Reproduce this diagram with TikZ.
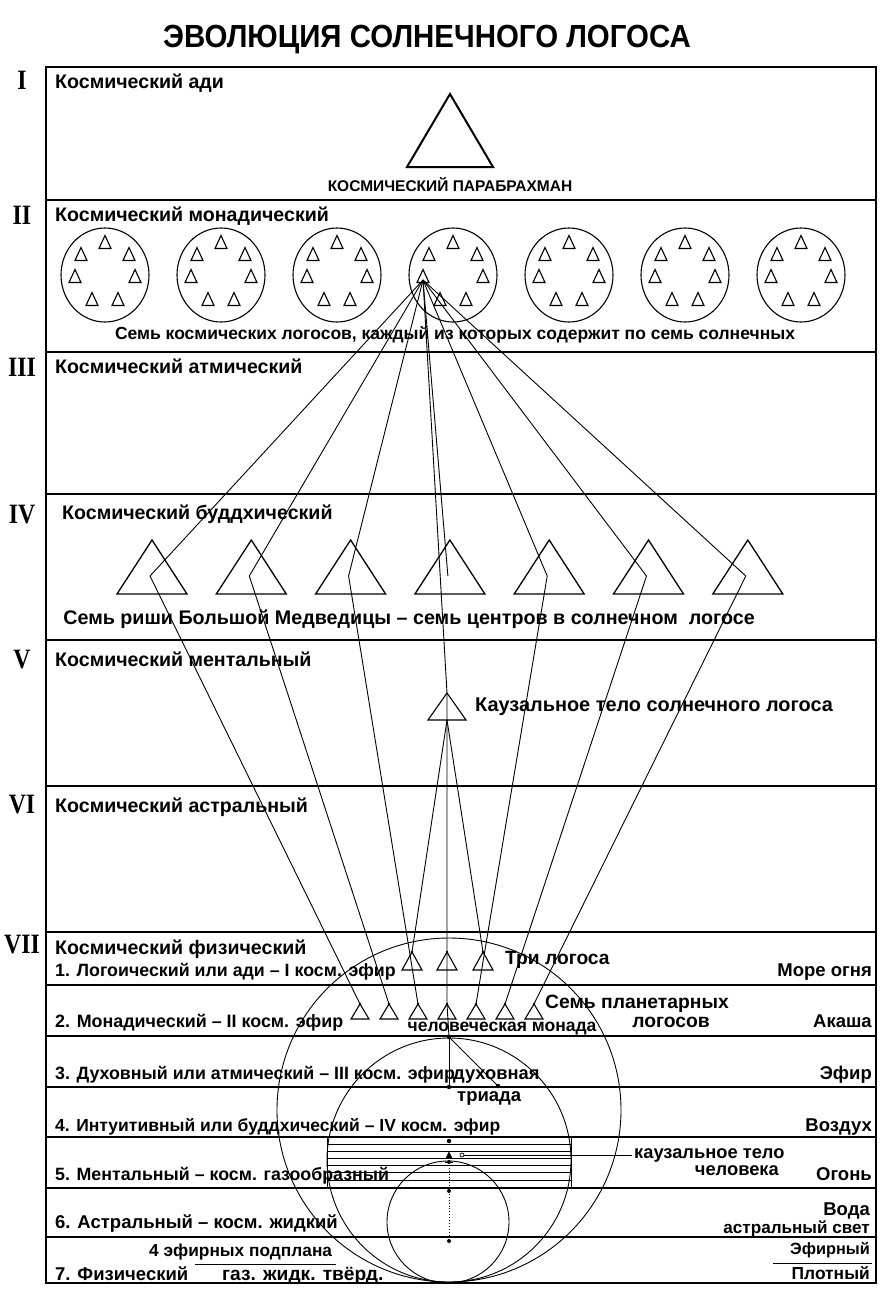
\documentclass[tikz,border=0pt]{standalone}
\usepackage{fontspec}
\setmainfont{Liberation Sans}
\newfontfamily\romfam{Liberation Serif}[FakeStretch=0.85]
\newfontfamily\titlefam{Liberation Sans}[FakeStretch=0.92]
\usetikzlibrary{calc}
\newcommand{\trisym}[5][]{\draw[tri,#1] (#2,#3-#5/2) -- (#2+#4,#3+#5/2) -- (#2-#4,#3+#5/2) -- cycle;}
\begin{document}
\begin{tikzpicture}[x=1pt,y=-1pt,
  lbl/.style={inner sep=0pt, font=\fontsize{19.6}{21}\selectfont\bfseries},
  fs/.style={inner sep=0pt, font=\fontsize{#1}{#1}\selectfont\bfseries},
  rom/.style={inner sep=0pt, font=\fontsize{28}{30}\selectfont\romfam\bfseries},
  frame/.style={line width=2.2pt},
  divider/.style={line width=1.3pt},
  subdiv/.style={line width=1.1pt},
  ray/.style={line width=0.9pt},
  tri/.style={line width=1.1pt, line join=miter},
]
\useasboundingbox (0,0) rectangle (891,1302);
\fill[white] (0,0) rectangle (891,1302);

% title
\node[inner sep=0pt, font=\fontsize{32}{34}\selectfont\titlefam\bfseries, anchor=base] (title) at (427,47) {ЭВОЛЮЦИЯ СОЛНЕЧНОГО ЛОГОСА};

% frame and dividers
\draw[frame] (46,67) rectangle (876,1283);
\foreach \y in {200,352,494,640,786,932} \draw[divider] (46,\y) -- (876,\y);
\foreach \y in {985,1036,1087,1137,1188,1237} \draw[subdiv] (46,\y) -- (876,\y);

% roman numerals
\node[rom] (r1) at (22,80) {I};
\node[rom] (r2) at (22,215) {II};
\node[rom] (r3) at (22,367) {III};
\node[rom] (r4) at (22,515) {IV};
\node[rom] (r5) at (22,660) {V};
\node[rom] (r6) at (22,805) {VI};
\node[rom] (r7) at (22,945) {VII};

% section labels
\node[lbl, anchor=base west] (s1) at (55,88) {Космический ади};
\node[lbl, anchor=base west] (s2) at (55,221) {Космический монадический};
\node[lbl, anchor=base west] (s3) at (55,373) {Космический атмический};
\node[lbl, anchor=base west] (s4) at (62,519) {Космический буддхический};
\node[lbl, anchor=base west] (s5) at (55,666) {Космический ментальный};
\node[lbl, anchor=base west] (s6) at (55,812) {Космический астральный};
\node[lbl, anchor=base west] (s7) at (55,954) {Космический физический};

% I : parabrahman
\draw[line width=2pt, line join=miter] (450,94) -- (493,167) -- (407,167) -- cycle;
\node[fs=15.5, anchor=base] (parab) at (450,191) {КОСМИЧЕСКИЙ ПАРАБРАХМАН};

% II : seven cosmic logoi
\foreach \i in {0,...,6} {
  \pgfmathsetmacro\cx{105+116*\i}
  \draw[tri] (\cx,275) ellipse [x radius=44, y radius=47];
  \foreach \dx/\dy in {0/-33,-24/-21,24/-21,-30/1,30/1,-13/24,13/24}
    {\trisym{\cx+\dx}{275+\dy}{6}{13}}
}
\node[fs=17.5, anchor=base] (s2t) at (455,339) {Семь космических логосов, каждый из которых содержит по семь солнечных};
\coordinate (C) at (423,280);

% IV : seven rishi
\foreach \i in {1,...,7} {
  \pgfmathsetmacro\cx{152+99.3*(\i-1)}
  \draw[line width=1.3pt, line join=miter] (\cx,540) -- (\cx+35,594) -- (\cx-35,594) -- cycle;
  \coordinate (M\i) at (\cx-2,576);
}
\node[fs=19.7, anchor=base] (s4t) at (409,624) {Семь риши Большой Медведицы – семь центров в солнечном\ \ логосе};

% V : causal body of solar logos
\coordinate (CA) at (447,693);
\coordinate (CB) at (447,720);
\draw[tri] (CA) -- (466,720) -- (428,720) -- cycle;
\node[fs=19.9, anchor=base west] (s5t) at (475,711) {Каузальное тело солнечного логоса};

% VII row 1: three logoi
\foreach \i/\x in {1/412,2/447,3/483} {
  \coordinate (L\i) at (\x,952);
  \trisym{\x}{961}{10}{18}
}
% VII row 2: seven planetary logoi
\foreach \i in {1,...,7} {
  \pgfmathsetmacro\px{360+29*(\i-1)}
  \coordinate (P\i) at (\px,1004);
  \trisym{\px}{1011.5}{9}{15}
}

% human monad and triad
\coordinate (Mon) at (449,1037);
\coordinate (T1) at (449,1087);
\coordinate (T2) at (498,1086);

% rays
\foreach \i in {1,...,7} \draw[ray] (C) -- (M\i);
\draw[ray] (C) -- (CA);
\foreach \i in {1,2,3,5,6,7} \draw[ray] (M\i) -- (P\i);
\draw[ray] (CA) -- (P4) -- (Mon);
\draw[ray] (CB) -- (L1);
\draw[ray] (CB) -- (L3);
\draw[ray] (Mon) -- (T1);
\draw[ray] (Mon) -- (T2);
\foreach \n in {L1,L2,L3,P1,P2,P3,P4,P5,P6,P7} \fill (\n) circle (1.4);
\foreach \n in {Mon,T1,T2} \fill (\n) circle (2.2);

% circles
\draw[ray] (449,1110) circle [radius=172];
\draw[ray] (449,1160) circle [radius=122];
\draw[ray] (448,1222) circle [radius=61];

% causal body of man (hatched)
\foreach \y in {1144,1151,1158,1165,1172,1180} \draw[ray] (327,\y) -- (571,\y);
\draw[ray] (327,1137) -- (327,1188);
\draw[ray] (571,1137) -- (571,1188);
\coordinate (D1) at (449,1141);
\coordinate (D2) at (449,1162);
\coordinate (D3) at (449,1191);
\coordinate (D4) at (449,1241);
\coordinate (CTm) at (462,1155);
\coordinate (CTl) at (632,1155);
\fill (D1) circle (2.2);
\trisym[fill]{449}{1155}{2.5}{5}
\draw[line width=0.7pt] (CTm) circle (2);
\draw[ray] ($(CTm)+(2,0)$) -- (CTl);
\fill (D2) circle (2);
\draw[ray] (445,1162) -- (453,1162);
\draw[ray, dotted] (D2) -- (D4);
\fill (D3) circle (2);
\fill (D4) circle (2);

% VII labels
\node[fs=17.8, anchor=base west] (v1) at (55,976) {1. Логоический или ади – I косм. эфир};
\node[fs=19.2, anchor=base west] (v1b) at (505,964) {Три логоса};
\node[fs=18.5, anchor=base east] (v1r) at (872,976) {Море огня};
\node[fs=17.9, anchor=base west] (v2) at (55,1027) {2. Монадический – II косм. эфир};
\node[fs=19.3, anchor=base west] (v2b) at (545,1008) {Семь планетарных};
\node[fs=19.3, anchor=base east] (v2c) at (710,1027) {логосов};
\node[fs=17.5, anchor=base] (v2m) at (502,1031) {человеческая монада};
\node[fs=18.5, anchor=base east] (v2r) at (872,1027) {Акаша};
\node[fs=17.8, anchor=base west] (v3) at (55,1079) {3. Духовный или атмический – III косм. эфир};
\node[fs=18.3, anchor=base west] (v3b) at (453,1079) {духовная};
\node[fs=18.5, anchor=base west] (v3c) at (457,1101) {триада};
\node[fs=18.5, anchor=base east] (v3r) at (872,1079) {Эфир};
\node[fs=17.5, anchor=base west] (v4) at (55,1131) {4. Интуитивный или буддхический – IV косм. эфир};
\node[fs=18.5, anchor=base east] (v4r) at (872,1131) {Воздух};
\node[fs=17.8, anchor=base west] (v5) at (55,1180) {5. Ментальный – косм. газообразный};
\node[fs=18.3, anchor=base west] (v5b) at (634,1158) {каузальное тело};
\node[fs=18.3, anchor=base east] (v5c) at (779,1175) {человека};
\node[fs=18.5, anchor=base east] (v5r) at (872,1180) {Огонь};
\node[fs=18.5, anchor=base west] (v6) at (55,1228) {6. Астральный – косм. жидкий};
\node[fs=18.5, anchor=base east] (v6r) at (870,1215) {Вода};
\node[fs=17.1, anchor=base east] (v6s) at (870,1233) {астральный свет};
\node[fs=17.3, anchor=base west] (v7a) at (149,1256) {4 эфирных подплана};
\draw[ray] (195,1264) -- (336,1264);
\node[fs=18.5, anchor=base west] (v7) at (55,1280) {7. Физический};
\node[fs=19.2, anchor=base west] (v7b) at (222,1280) {газ. жидк. твёрд.};
\node[fs=16.3, anchor=base east] (v7r) at (870,1254) {Эфирный};
\draw[ray] (773,1263) -- (872,1263);
\node[fs=17.4, anchor=base east] (v7s) at (870,1279) {Плотный};
\end{tikzpicture}
\end{document}
